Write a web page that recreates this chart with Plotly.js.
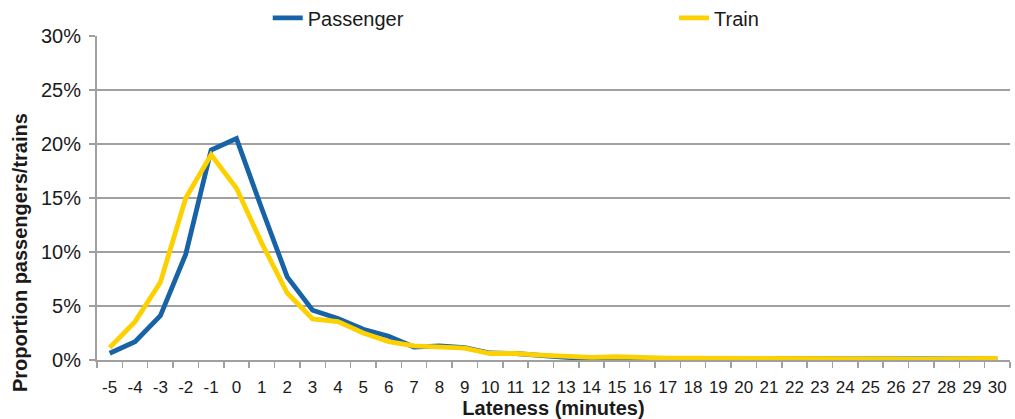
<!DOCTYPE html>
<html>
<head>
<meta charset="utf-8">
<script src="https://cdn.plot.ly/plotly-3.0.1.min.js"></script>
<style>html,body{margin:0;padding:0;background:#fff;}#chart{width:1015px;height:419px;}</style>
</head>
<body>
<div id="chart"></div>
<script>
const lateness = ['-5','-4','-3','-2','-1','0','1','2','3','4','5','6','7','8','9','10','11','12','13','14','15','16','17','18','19','20','21','22','23','24','25','26','27','28','29','30'];
const passenger = [0.63,1.7,4.1,9.8,19.45,20.5,14.0,7.7,4.6,3.85,2.85,2.2,1.2,1.3,1.15,0.65,0.6,0.4,0.25,0.12,0.2,0.15,0.15,0.12,0.12,0.15,0.1,0.08,0.1,0.1,0.08,0.08,0.05,0.07,0.06,0.1];
const train = [1.15,3.55,7.2,15.0,19.0,15.9,10.8,6.2,3.8,3.55,2.5,1.7,1.3,1.15,1.1,0.6,0.6,0.45,0.35,0.25,0.3,0.2,0.18,0.18,0.18,0.2,0.12,0.1,0.2,0.15,0.12,0.1,0.08,0.1,0.1,0.15];
const seriesNames = ['Passenger','Train'];
const seriesColors = ['#1763a6','#fdd000'];
const yTicks = [0,5,10,15,20,25,30];
const yTickText = yTicks.map(v => v + '%');
const xTitle = 'Lateness (minutes)';
const yTitle = 'Proportion passengers/trains';

const traces = [passenger, train].map((vals, i) => ({
  x: lateness, y: vals, type: 'scatter', mode: 'lines', name: seriesNames[i],
  legend: i === 0 ? 'legend' : 'legend2',
  line: {color: seriesColors[i], width: 4.8, shape: 'linear'}
}));

const legendBase = {orientation: 'h', xref: 'paper', yref: 'paper', xanchor: 'left', yanchor: 'middle',
  y: 1.056, font: {size: 20}, bgcolor: 'rgba(0,0,0,0)', borderwidth: 0};

const layout = {
  width: 1015, height: 419,
  margin: {l: 97, r: 5, t: 36, b: 59, autoexpand: false},
  paper_bgcolor: '#fff', plot_bgcolor: '#fff',
  font: {family: 'Liberation Sans, Arial, sans-serif', size: 20, color: '#1a1a1a'},
  showlegend: true,
  legend: Object.assign({}, legendBase, {x: 0.187}),
  legend2: Object.assign({}, legendBase, {x: 0.632}),
  xaxis: {type: 'category', range: [-0.5, 35.5], tickson: 'boundaries', ticks: 'outside', ticklen: 6,
          tickcolor: '#a0a0a0', tickwidth: 1.5, showline: true, linecolor: '#a0a0a0', linewidth: 2,
          showgrid: false, zeroline: false, tickangle: 0, ticklabelstandoff: 11,
          tickfont: {size: 17},
          title: {text: '<b>' + xTitle + '</b>', font: {size: 20}, standoff: 3}},
  yaxis: {range: [0, 30], tickvals: yTicks, ticktext: yTickText, ticks: 'outside', ticklen: 6,
          tickcolor: '#a0a0a0', tickwidth: 1.5, showline: true, linecolor: '#a0a0a0', linewidth: 2,
          showgrid: true, gridcolor: '#a0a0a0', gridwidth: 2, zeroline: false, tickfont: {size: 20},
          ticklabelstandoff: 4},
  annotations: [{text: '<b>' + yTitle + '</b>', textangle: -90, xref: 'paper', yref: 'paper',
                 x: -0.0843, y: 0.33, xanchor: 'center', yanchor: 'middle', showarrow: false,
                 font: {size: 20}}]
};

Plotly.newPlot('chart', traces, layout, {displayModeBar: false, staticPlot: true});
</script>
</body>
</html>
